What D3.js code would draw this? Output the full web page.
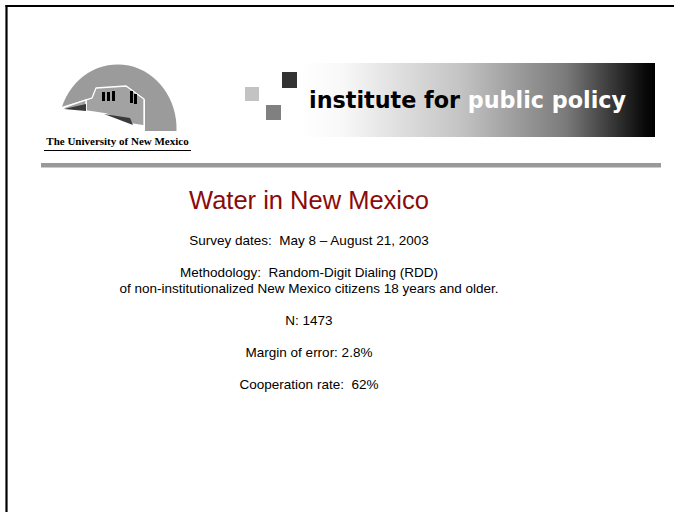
<!DOCTYPE html>
<html><head><meta charset="utf-8">
<script src="https://cdn.jsdelivr.net/npm/d3@7"></script>
<style>html,body{margin:0;padding:0;background:#fff;}svg{display:block;}</style>
</head><body>
<script>
// ---- content ----
const titleText = ["Water in New Mexico"];
const infoLines = [
  "Survey dates:  May 8 \u2013 August 21, 2003",
  "",
  "Methodology:  Random-Digit Dialing (RDD)",
  "of non-institutionalized New Mexico citizens 18 years and older.",
  "",
  "N: 1473",
  "",
  "Margin of error: 2.8%",
  "",
  "Cooperation rate:  62%"
];
const bannerWords = ["institute for ", "public policy"];
const bannerWordColors = ["#000000", "#ffffff"];
const uniName = ["The University of New Mexico"];
const squareShades = ["#c3c3c3", "#333333", "#808080"];

const W = 674, H = 512;
const svg = d3.select("body").append("svg").attr("width", W).attr("height", H);

// slide frame (top + left edges)
svg.append("line").attr("x1", 5.5).attr("x2", W).attr("y1", 6).attr("y2", 6)
  .attr("stroke", "#000").attr("stroke-width", 2.2);
svg.append("line").attr("x1", 6.5).attr("x2", 6.5).attr("y1", 5).attr("y2", H)
  .attr("stroke", "#000").attr("stroke-width", 2.2);

// ---- UNM logo ----
const logo = svg.append("g");
const cx = 118, cy = 127, rx = 59, ry = 64;
const lx = 62, ly = cy - ry * Math.sqrt(1 - Math.pow((cx - lx) / rx, 2));
const rxEnd = 176.5, ryEnd = 131;
logo.append("path")
  .attr("d", `M${lx},${ly}A${rx},${ry} 0 0 1 ${rxEnd},${ryEnd}L145,${ryEnd}L145,100L126,86L96,88L92,98L84,100Z`)
  .attr("fill", "#9b9b9b");
// building faces
logo.append("path").attr("d", "M96,88L126,86L144,99L144,126L132,124L106,114L86,111L86,100L92,98Z")
  .attr("fill", "#a2a2a2").attr("stroke", "#fff").attr("stroke-width", 1.3);
logo.append("path").attr("d", `M${lx + 1},${ly + 1}L86,100L86,111L64,109Z`)
  .attr("fill", "#a2a2a2").attr("stroke", "#fff").attr("stroke-width", 1.3);
// shadows
logo.append("path").attr("d", "M64,109L86,104L86,111Z").attr("fill", "#3a3a3a");
logo.append("path").attr("d", "M104,114L130,118L133,125Z").attr("fill", "#3a3a3a");
// windows
[[102,92,3,9],[107,92,3,9],[112,91,3,10],[130,91,3,12],[134,94,3,10]].forEach(w => {
  logo.append("rect").attr("x", w[0]).attr("y", w[1]).attr("width", w[2]).attr("height", w[3]).attr("fill", "#000");
});
logo.selectAll("text.uni").data(uniName).join("text")
  .attr("x", 117.5).attr("y", 145).attr("text-anchor", "middle")
  .attr("font-family", "Liberation Serif, Times New Roman, serif")
  .attr("font-weight", "bold").attr("font-size", 11).attr("fill", "#000")
  .text(d => d);
logo.append("line").attr("x1", 44).attr("x2", 191).attr("y1", 150.5).attr("y2", 150.5)
  .attr("stroke", "#000").attr("stroke-width", 1);

// ---- institute banner ----
const defs = svg.append("defs");
const grad = defs.append("linearGradient").attr("id", "bg").attr("x1", "0").attr("x2", "1").attr("y1", "0").attr("y2", "0");
[[0, "#ffffff"], [0.12, "#f8f8f8"], [0.45, "#c4c4c4"], [0.75, "#7a7a7a"], [0.97, "#0a0a0a"], [1, "#000"]]
  .forEach(s => grad.append("stop").attr("offset", s[0]).attr("stop-color", s[1]));
svg.append("rect").attr("x", 300).attr("y", 63).attr("width", 355).attr("height", 74).attr("fill", "url(#bg)");

const sq = [[245, 87, 14, 14], [282, 72, 15, 16], [266, 105, 15, 15]];
svg.selectAll("rect.sq").data(sq).join("rect").attr("class", "sq")
  .attr("x", d => d[0]).attr("y", d => d[1]).attr("width", d => d[2]).attr("height", d => d[3])
  .attr("fill", (d, i) => squareShades[i]);

const bt = svg.append("text").attr("x", 309).attr("y", 108)
  .attr("font-family", "DejaVu Sans, Verdana, sans-serif").attr("font-weight", "bold")
  .attr("font-size", 23).attr("textLength", 317).attr("lengthAdjust", "spacingAndGlyphs");
bt.selectAll("tspan").data(bannerWords).join("tspan")
  .attr("fill", (d, i) => bannerWordColors[i]).style("white-space", "pre").text(d => d);

// grey rule
svg.append("rect").attr("x", 41).attr("y", 163).attr("width", 620).attr("height", 4.5).attr("fill", "#999");

// ---- title + info ----
const centerX = 309;
svg.selectAll("text.title").data(titleText).join("text").attr("class", "title")
  .attr("x", centerX).attr("y", 209).attr("text-anchor", "middle")
  .attr("font-family", "Liberation Sans, Arial, sans-serif").attr("font-size", 25.5)
  .attr("fill", "#8b0a0a").text(d => d);

const y = d3.scaleLinear().domain([0, infoLines.length - 1]).range([244.5, 388.5]);
svg.selectAll("text.info").data(infoLines.map((t, i) => ({t, i})).filter(d => d.t))
  .join("text").attr("class", "info")
  .attr("x", centerX).attr("y", d => y(d.i)).attr("text-anchor", "middle")
  .attr("font-family", "Liberation Sans, Arial, sans-serif").attr("font-size", 13.5)
  .attr("fill", "#000").style("white-space", "pre").text(d => d.t);
</script>
</body></html>
